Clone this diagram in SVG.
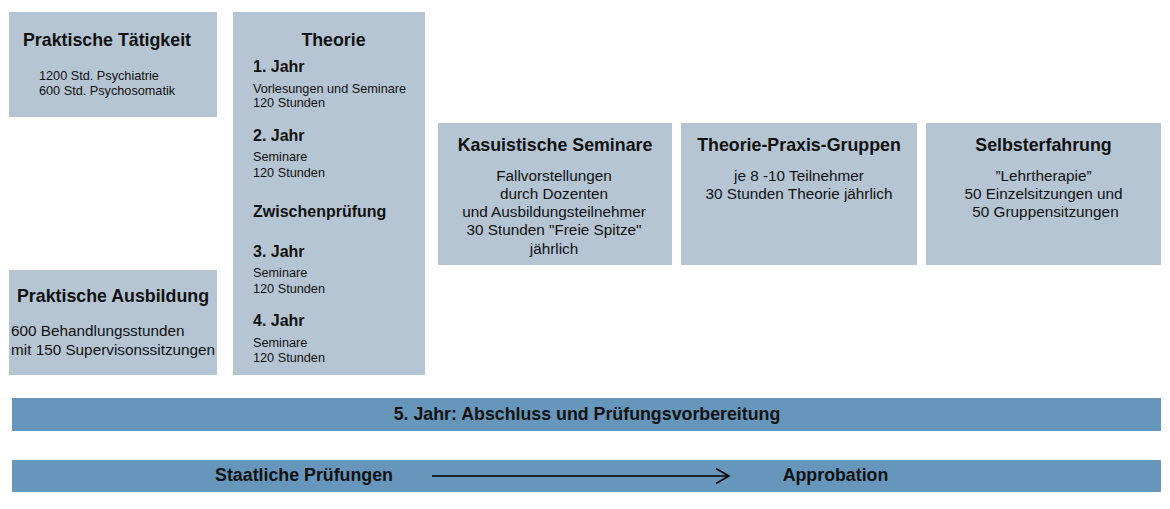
<svg xmlns="http://www.w3.org/2000/svg" width="1170" height="509" viewBox="0 0 1170 509">
<style>
.box{fill:#b5c5d3}
.bar{fill:#6696bc}
text{font-family:"Liberation Sans",Arial,sans-serif;fill:#111}
.t{font-weight:bold;font-size:17.8px}
.y{font-weight:bold;font-size:16px}
.s{font-size:12.7px}
.b{font-size:15.3px}
.m{text-anchor:middle}
</style>
<defs>
<marker id="arr" markerWidth="18" markerHeight="18" refX="14" refY="9" orient="auto" markerUnits="userSpaceOnUse">
<path d="M1,1.5 L14,9 L1,16.5" fill="none" stroke="#000" stroke-width="1.5"/>
</marker>
</defs>
<rect width="1170" height="509" fill="#fff"/>
<g id="praktische-taetigkeit">
<rect class="box" x="9" y="12" width="208" height="105"/>
<text class="t" x="23" y="45.5">Praktische Tätigkeit</text>
<text class="s" x="39" y="79.5">1200 Std. Psychiatrie</text>
<text class="s" x="39" y="94.5">600 Std. Psychosomatik</text>
</g>
<g id="praktische-ausbildung">
<rect class="box" x="9" y="270" width="208" height="105"/>
<text class="t" x="17" y="302">Praktische Ausbildung</text>
<text class="b" x="11" y="336">600 Behandlungsstunden</text>
<text class="b" x="11" y="354.5">mit 150 Supervisonssitzungen</text>
</g>
<g id="theorie">
<rect class="box" x="233" y="12" width="192" height="363"/>
<text class="t m" x="333.5" y="45.5">Theorie</text>
<text class="y" x="253" y="71.5">1. Jahr</text>
<text class="s" x="253" y="92.5">Vorlesungen und Seminare</text>
<text class="s" x="253" y="107">120 Stunden</text>
<text class="y" x="253" y="140.5">2. Jahr</text>
<text class="s" x="253" y="161">Seminare</text>
<text class="s" x="253" y="177">120 Stunden</text>
<text class="y" x="253" y="217">Zwischenprüfung</text>
<text class="y" x="253" y="257">3. Jahr</text>
<text class="s" x="253" y="277">Seminare</text>
<text class="s" x="253" y="293">120 Stunden</text>
<text class="y" x="253" y="325.5">4. Jahr</text>
<text class="s" x="253" y="347">Seminare</text>
<text class="s" x="253" y="361.5">120 Stunden</text>
</g>
<g id="kasuistische-seminare">
<rect class="box" x="438" y="123" width="234" height="142"/>
<text class="t m" x="555" y="150.5">Kasuistische Seminare</text>
<text class="b m" x="554" y="180.5">Fallvorstellungen</text>
<text class="b m" x="554" y="198.8">durch Dozenten</text>
<text class="b m" x="554" y="217.1">und Ausbildungsteilnehmer</text>
<text class="b m" x="554" y="235.4">30 Stunden "Freie Spitze"</text>
<text class="b m" x="554" y="253.7">jährlich</text>
</g>
<g id="theorie-praxis-gruppen">
<rect class="box" x="681" y="123" width="236" height="142"/>
<text class="t m" x="799" y="150.5">Theorie-Praxis-Gruppen</text>
<text class="b m" x="799" y="180.5">je 8 -10 Teilnehmer</text>
<text class="b m" x="799" y="198.8">30 Stunden Theorie jährlich</text>
</g>
<g id="selbsterfahrung">
<rect class="box" x="926" y="123" width="235" height="142"/>
<text class="t m" x="1043.5" y="150.5">Selbsterfahrung</text>
<text class="b m" x="1043.5" y="180.5">”Lehrtherapie”</text>
<text class="b m" x="1043.5" y="198.8">50 Einzelsitzungen und</text>
<text class="b m" x="1045.5" y="217.1">50 Gruppensitzungen</text>
</g>
<g id="jahr5">
<rect class="bar" x="12" y="398" width="1149" height="33"/>
<text class="t m" x="587" y="420">5. Jahr: Abschluss und Prüfungsvorbereitung</text>
</g>
<g id="pruefungen">
<rect class="bar" x="12" y="460" width="1149" height="32"/>
<text class="t m" x="304" y="481">Staatliche Prüfungen</text>
<text class="t m" x="835.5" y="481">Approbation</text>
</g>
<g id="connectors">
<line x1="432" y1="476" x2="729" y2="476" stroke="#000" stroke-width="1.5" marker-end="url(#arr)"/>
</g>
</svg>
